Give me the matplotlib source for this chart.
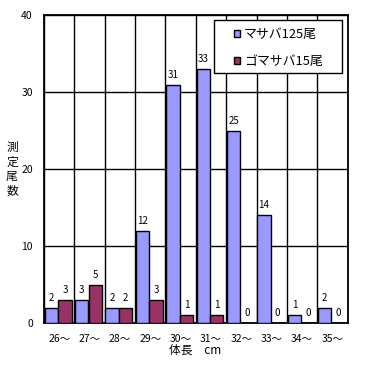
import matplotlib
matplotlib.use("Agg")
import matplotlib.pyplot as plt
from matplotlib.patches import Rectangle
import numpy as np

plt.rcParams['font.family'] = ['Noto Sans CJK JP', 'DejaVu Sans']

categories = ["26〜", "27〜", "28〜", "29〜", "30〜", "31〜", "32〜", "33〜", "34〜", "35〜"]
masaba = [2, 3, 2, 12, 31, 33, 25, 14, 1, 2]
gomasaba = [3, 5, 2, 3, 1, 1, 0, 0, 0, 0]
series_names = ["マサバ125尾", "ゴマサバ15尾"]
yticks = [0, 10, 20, 30, 40]
ylabel_chars = ["測", "定", "尾", "数"]

W = H = 365.0
fig = plt.figure(figsize=(3.65, 3.65), dpi=100)
ax = fig.add_axes([44/W, 1-323/H, (347.7-44)/W, (323-15.3)/H])

x = np.arange(len(categories))
w = 0.44
ax.bar(x - 0.255, masaba, width=w, color="#9999FF", edgecolor="black", linewidth=1.0, label=series_names[0], zorder=3)
ax.bar(x + 0.19, gomasaba, width=w, color="#993366", edgecolor="black", linewidth=1.0, label=series_names[1], zorder=3)

for xi, v in zip(x - 0.255, masaba):
    ax.text(xi, v + 0.9, str(v), ha="center", va="baseline", fontsize=7, zorder=4)
for xi, v in zip(x + 0.19, gomasaba):
    ax.text(xi, v + 0.9, str(v), ha="center", va="baseline", fontsize=7, zorder=4)

ax.set_xlim(-0.5, len(categories) - 0.5)
ax.set_ylim(0, 40)
ax.set_yticks(yticks)
ax.set_yticklabels([str(t) for t in yticks], fontsize=7.5)
ax.set_xticks(x)
ax.set_xticklabels(categories, fontsize=7.5)
ax.tick_params(axis="x", length=0, pad=8)
ax.tick_params(axis="y", length=0, pad=8)

ax.set_xticks(np.arange(-0.5, len(categories), 1.0), minor=True)
ax.grid(True, which="minor", axis="x", color="black", linewidth=1.0, zorder=1)
ax.grid(True, which="major", axis="y", color="black", linewidth=1.0, zorder=1)
ax.tick_params(which="minor", length=0)
for s in ax.spines.values():
    s.set_linewidth(1.3)
    s.set_color("black")

fig.text(195/W, 1-350/H, "体長　cm", ha="center", va="center", fontsize=8.5)
for i, ch in enumerate(ylabel_chars):
    fig.text(12/W, 1-(147.5 + 14.5*i)/H, ch, ha="center", va="center", fontsize=8.5)

# legend frame
fig.patches.append(Rectangle((214/W, 1-73/H), (342-214)/W, (73-20)/H, transform=fig.transFigure,
                             facecolor="white", edgecolor="black", linewidth=1.0, zorder=5))
leg = fig.legend(loc="upper left", bbox_to_anchor=(234/W, 1-28/H),
                 fontsize=9.3, frameon=False,
                 handlelength=0.5, handleheight=0.5, handletextpad=0.25, labelspacing=1.1,
                 borderpad=0.0, borderaxespad=0)
for h in leg.legend_handles:
    h.set_linewidth(1.0)
leg.set_zorder(6)

fig.savefig("out.png", dpi=100)
